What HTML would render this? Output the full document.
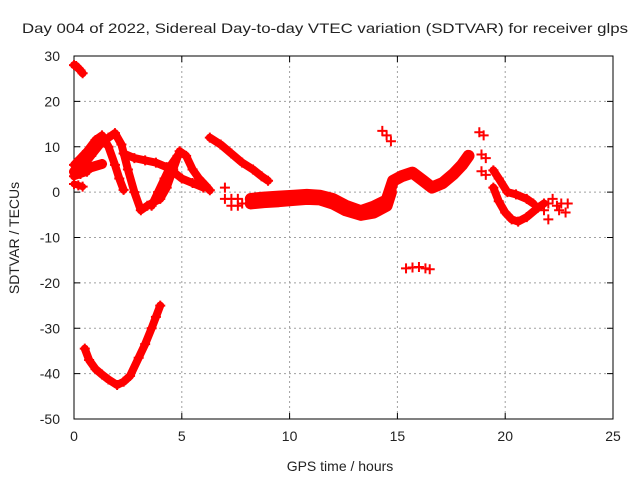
<!DOCTYPE html>
<html><head><meta charset="utf-8"><style>
body{margin:0;background:#fff}
svg text{font-family:"Liberation Sans",sans-serif;font-size:14px;fill:#222}
</style></head><body>
<svg width="640" height="480" id="c" xmlns="http://www.w3.org/2000/svg"></svg>
<script>
const xTicks=[0,5,10,15,20,25];
const yTicks=[30,20,10,0,-10,-20,-30,-40,-50];
const segTop=[[0,28],[0.1,27.8],[0.2,27.3],[0.3,26.8],[0.4,26.2]];
const segLow=[[0.5,-34.5],[0.7,-37],[1,-39],[1.3,-40.2],[1.6,-41.3],[2,-42.5],[2.3,-41.8],[2.6,-40.5],[3,-36.5],[3.3,-33.5],[3.6,-30],[3.8,-27.5],[4,-25]];
const segA=[[0,6],[0.3,7.5],[0.6,9],[1,11.5],[1.3,12.5],[1.6,10],[1.9,6],[2.1,3],[2.3,0.5]];
const segB=[[0.3,5],[0.8,8],[1.3,11],[1.6,12],[1.9,13],[2.2,10.5],[2.5,5],[2.8,0],[3.1,-4],[3.4,-3],[3.7,-2.2],[4.0,-1.5],[4.3,1],[4.6,5],[4.9,9],[5.2,8],[5.5,5],[5.8,3],[6.1,1.5],[6.3,0.4]];
const segBand0=[[0,4.5],[0.4,4.8],[0.8,5.5],[1.3,6.2]];
const segBand0b=[[0,3.5],[0.3,4],[0.6,4.5]];
const segBand0c=[[0,1.8],[0.2,1.5],[0.4,1.2]];
const segH=[[2.3,8.5],[2.8,7.5],[3.3,7],[3.8,6.5],[4.3,5.5],[4.6,4.5],[5,3],[5.5,2],[6,1]];
const segR=[[3.6,-3],[3.9,0],[4.2,3],[4.5,6],[4.8,8]];
const segC=[[6.3,12],[6.8,10.5],[7.3,8.5],[7.8,6.5],[8.3,5],[8.7,3.5],[9,2.5]];
const segX=[[7,1],[7,-1.5],[7.3,-1.5],[7.3,-3],[7.6,-1.5],[7.6,-3],[7.8,-2.5]];
const segBand=[[8.2,-1.5],[8.8,-1.2],[9.5,-1],[10.2,-0.8],[10.8,-0.6],[11.4,-0.8],[12,-1.5],[12.6,-3],[13.3,-4.2],[13.9,-3.2],[14.5,-1.8],[14.8,2.5],[15.2,3.5],[15.7,4.3],[16.2,2.5],[16.6,1],[17.1,2],[17.6,4],[18,6],[18.3,8]];
const segBand2=[[8.2,-2.5],[8.8,-2.2],[9.5,-2],[10.2,-1.7],[10.8,-1.5],[11.4,-1.6],[12,-2.5],[12.6,-4],[13.3,-5],[13.9,-4.5],[14.5,-3],[14.7,0]];
const segIso=[[14.3,13.5],[14.5,12.5],[14.7,11.2],[15.4,-16.8],[15.7,-16.6],[16,-16.5],[16.3,-16.8],[16.5,-17],[18.8,13.2],[19,12.5],[18.9,8.3],[19.1,7.5],[18.9,4.6],[19.1,3.8]];
const segD1=[[19.45,4.8],[19.7,3],[20.1,0],[20.5,-0.5],[21,-1.5],[21.3,-2.5]];
const segD2=[[19.45,1],[19.7,-2],[20,-4.5],[20.3,-6],[20.6,-6.5],[21,-5.5],[21.5,-3.5],[21.8,-2.5]];
const segE=[[21.8,-4],[22,-2.5],[22,-6],[22.2,-1.5],[22.4,-3],[22.6,-2.5],[22.8,-4.5],[22.9,-2.5],[22.5,-4]];
const series=[segTop,segLow,segA,segB,segBand0,segBand0b,segBand0c,segH,segR,segC,segX,segBand,segBand2,segIso,segD1,segD2,segE];
const lineW=[8,8,8,8,10,8,7,8,8,8,0,12,12,0,8,8,0];

const L=74,R=613,T=56,B=419;
const sx=v=>L+(v-0)/25*(R-L);
const sy=v=>T+(30-v)/80*(B-T);
const svg=document.getElementById('c');const NS='http://www.w3.org/2000/svg';
function mk(t,a){const e=document.createElementNS(NS,t);for(const k in a)e.setAttribute(k,a[k]);svg.appendChild(e);return e;}
xTicks.forEach(v=>{const x=sx(v);
 if(v>0&&v<25){const g=mk('line',{x1:x,y1:T,x2:x,y2:B,stroke:'#a0a0a0','stroke-dasharray':'2,3'});}
 mk('line',{x1:x,y1:B,x2:x,y2:B-6,stroke:'#000'});mk('line',{x1:x,y1:T,x2:x,y2:T+6,stroke:'#000'});
 const t=mk('text',{x:x,y:B+22,'text-anchor':'middle'});t.textContent=v;
 });
yTicks.forEach(v=>{const y=sy(v);
 if(v<30&&v>-50){const g=mk('line',{x1:L,y1:y,x2:R,y2:y,stroke:'#a0a0a0','stroke-dasharray':'2,3'});}
 mk('line',{x1:L,y1:y,x2:L+6,y2:y,stroke:'#000'});mk('line',{x1:R,y1:y,x2:R-6,y2:y,stroke:'#000'});
 const t=mk('text',{x:L-14,y:y+5,'text-anchor':'end'});t.textContent=v;
 });
const fr=mk('rect',{x:L,y:T,width:R-L,height:B-T,fill:'none',stroke:'#000'});

series.forEach((s,i)=>{
 if(lineW[i]){const p=mk('polyline',{points:s.map(d=>sx(d[0])+','+sy(d[1])).join(' '),fill:'none',stroke:'#f00','stroke-width':lineW[i],'stroke-linejoin':'round','stroke-linecap':'round'});
 }
 s.forEach(d=>{const x=sx(d[0]),y=sy(d[1]);
  const m=mk('path',{d:`M${x-5},${y}H${x+5}M${x},${y-5}V${y+5}`,stroke:'#f00','stroke-width':2});
  });
});
const ti=mk('text',{x:325,y:33,'text-anchor':'middle',textLength:606,lengthAdjust:'spacingAndGlyphs'});ti.textContent='Day 004 of 2022, Sidereal Day-to-day VTEC variation (SDTVAR) for receiver glps';

const xl=mk('text',{x:340,y:471,'text-anchor':'middle'});xl.textContent='GPS time / hours';

const yl=mk('text',{x:19,y:238,'text-anchor':'middle',transform:'rotate(-90 19 238)'});yl.textContent='SDTVAR / TECUs';

</script>
</body></html>
